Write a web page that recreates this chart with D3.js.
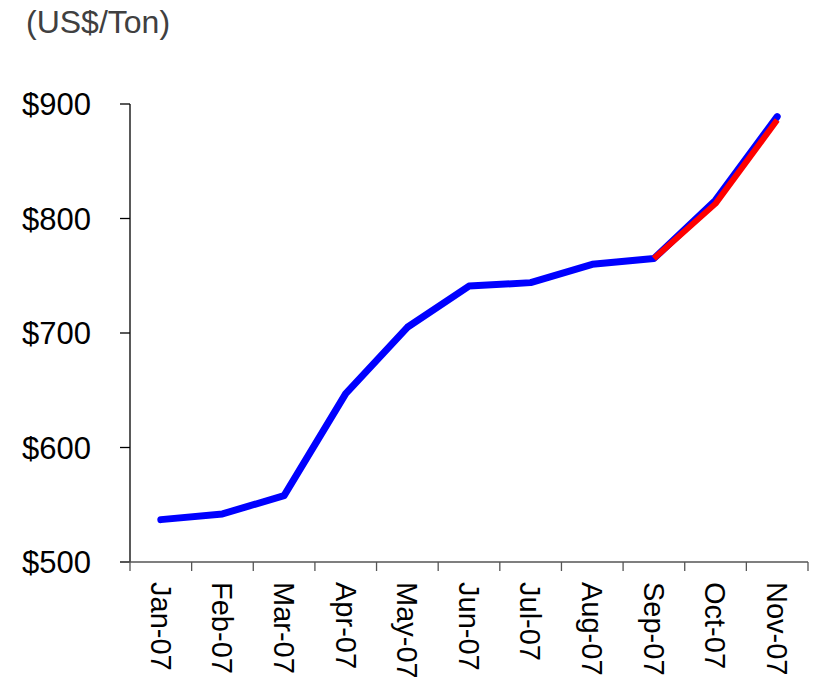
<!DOCTYPE html>
<html>
<head>
<meta charset="utf-8">
<script src="https://cdn.jsdelivr.net/npm/d3@7"></script>
<style>
  body { margin: 0; background: #fff; }
  text { font-family: "Liberation Sans", Arial, sans-serif; }
</style>
</head>
<body>
<svg width="814" height="677"></svg>
<script>
const months = ["Jan-07", "Feb-07", "Mar-07", "Apr-07", "May-07", "Jun-07",
  "Jul-07", "Aug-07", "Sep-07", "Oct-07", "Nov-07"];
const priceActual = [537, 542, 558, 647, 705, 741, 744, 760, 765, 816, 889];
// red segment from Sep onwards
const redMonths = ["Sep-07", "Oct-07", "Nov-07"];
const priceRed = [765, 813, 886];
const yTicks = [500, 600, 700, 800, 900];

const svg = d3.select("svg");

const x = d3.scaleBand().domain(months).range([130, 808]);
const y = d3.scaleLinear().domain([500, 900]).range([562, 104]);

//title
svg.append("text")
  .attr("x", 26)
  .attr("y", 33)
  .attr("font-size", 32)
  .attr("fill", "#404040")
  .text("(US$/Ton)");

//y axis
const yAxis = svg.append("g").attr("transform", "translate(130,0)");
yAxis.append("line")
  .attr("y1", y(900)).attr("y2", y(500))
  .attr("stroke", "#000").attr("stroke-width", 1.3);
yAxis.selectAll(".yt")
  .data(yTicks)
  .enter()
  .append("line")
  .attr("x1", -10).attr("x2", 0)
  .attr("y1", (d) => y(d)).attr("y2", (d) => y(d))
  .attr("stroke", "#000").attr("stroke-width", 1.3);
yAxis.selectAll("text")
  .data(yTicks)
  .enter()
  .append("text")
  .attr("x", -39)
  .attr("y", (d) => y(d))
  .attr("dy", "0.36em")
  .attr("text-anchor", "end")
  .attr("font-size", 31)
  .text((d) => "$" + d);

//x axis
const xAxis = svg.append("g").attr("transform", "translate(0," + y(500) + ")");
xAxis.append("line")
  .attr("x1", 120).attr("x2", 808)
  .attr("stroke", "#555").attr("stroke-width", 1.3);
xAxis.selectAll(".xt")
  .data(months.map((m) => x(m)).concat([808]))
  .enter()
  .append("line")
  .attr("x1", (d) => d).attr("x2", (d) => d)
  .attr("y1", 0).attr("y2", 9)
  .attr("stroke", "#555").attr("stroke-width", 1.3);
xAxis.selectAll("text")
  .data(months)
  .enter()
  .append("text")
  .attr("transform", (d) => "translate(" + (x(d) + x.bandwidth() / 2) + ",20) rotate(90)")
  .attr("dy", "0.35em")
  .attr("font-size", 29)
  .text((d) => d);

//lines
const line = d3.line()
  .x((d) => x(d[0]) + x.bandwidth() / 2)
  .y((d) => y(d[1]));

svg.append("path")
  .datum(months.map((m, i) => [m, priceActual[i]]))
  .attr("d", line)
  .attr("fill", "none")
  .attr("stroke", "#0000ff")
  .attr("stroke-width", 7)
  .attr("stroke-linecap", "round")
  .attr("stroke-linejoin", "round");

svg.append("path")
  .datum(redMonths.map((m, i) => [m, priceRed[i]]))
  .attr("d", line)
  .attr("fill", "none")
  .attr("stroke", "#ff0000")
  .attr("stroke-width", 6)
  .attr("stroke-linecap", "butt")
  .attr("stroke-linejoin", "round");
</script>
</body>
</html>
